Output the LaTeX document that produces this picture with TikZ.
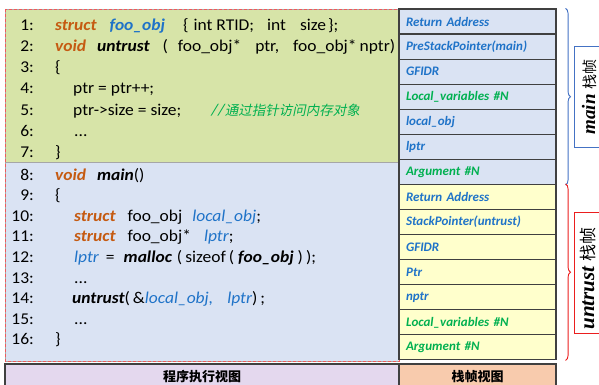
\documentclass[tikz,border=0pt]{standalone}
\usepackage{fontspec}
\setmainfont{Carlito}
\newfontfamily\codefont{Carlito}[FakeStretch=1.06]
\newfontfamily\cjk{Noto Sans CJK SC}[AutoFakeSlant=0.2]
\newfontfamily\timesfont{Liberation Serif}
\usetikzlibrary{decorations.pathreplacing}

\definecolor{codegreen}{RGB}{215,228,168}
\definecolor{codeblue}{RGB}{218,227,243}
\definecolor{rowyellow}{RGB}{255,255,204}
\definecolor{barpurple}{RGB}{228,216,238}
\definecolor{barorange}{RGB}{248,203,173}
\definecolor{rowgray}{RGB}{64,64,64}
\definecolor{kworange}{RGB}{197,90,17}
\definecolor{idblue}{RGB}{31,115,200}
\definecolor{cmtgreen}{RGB}{0,176,80}
\definecolor{framered}{RGB}{240,90,90}
\definecolor{braceblue}{RGB}{68,114,196}
\definecolor{bracered}{RGB}{235,30,30}

\newcommand{\kw}[1]{\textcolor{kworange}{\bfseries\itshape #1}}
\newcommand{\ty}[1]{\textcolor{idblue}{\bfseries\itshape #1}}
\newcommand{\fn}[1]{{\bfseries\itshape #1}}
\newcommand{\vr}[1]{\textcolor{idblue}{\itshape #1}}

\begin{document}
\begin{tikzpicture}[x=1pt,y=-1pt,node distance=25.07pt,
    code line/.style={anchor=base west,inner sep=0pt,font=\codefont\fontsize{16.5}{19}\selectfont},
    line num/.style={anchor=base east,inner sep=0pt,font=\codefont\fontsize{16.5}{19}\selectfont},
    stack row/.style={draw=rowgray,line width=1.1pt,minimum height=25.07pt,text width=143pt,
      inner xsep=7pt,inner ysep=0pt,align=left,text=idblue,
      font=\fontsize{13}{15}\selectfont\bfseries\itshape},
    main row/.style={stack row,fill=codeblue},
    untrust row/.style={stack row,fill=rowyellow},
    view bar/.style={draw=rowgray,line width=1.1pt,minimum height=26pt,inner sep=0pt,
      font=\cjk\bfseries\fontsize{13}{15}\selectfont},
    frame box/.style={thick,anchor=north west,minimum width=40pt,inner sep=0pt},
    frame label/.style={rotate=90,anchor=base,inner sep=0pt},
    frame brace/.style={decorate,decoration={brace,amplitude=5pt},line width=0.9pt}]
  \useasboundingbox (0,0) rectangle (599,385);

  % code panel
  \filldraw[fill=codegreen,draw=gray!70,thin] (5,9) rectangle (399,162);
  \filldraw[fill=codeblue,draw=gray!70,thin] (5,162) rectangle (399,361);
  \draw[framered,dash pattern=on 3pt off 2pt,line width=0.9pt] (5,9) rectangle (399,361);

  \foreach \i in {1,...,7}
    \node[line num] (n\i) at (34,10+21*\i) {\i:};
  \foreach \i in {8,...,16}
    \node[line num] (n\i) at (34,15.2+20.6*\i) {\i:};

  \node[code line] (l1) at (55,31) {\kw{struct}\hspace{13pt}\ty{foo\_obj}\hspace{18pt}\{\hspace{5pt}int\hspace{4pt}RTID;\hspace{13pt}int\hspace{14pt}size\hspace{2pt}\};};
  \node[code line] (l2) at (55,52) {\kw{void}\hspace{11pt}\fn{untrust}\hspace{13pt}(\hspace{10pt}foo\_obj*\hspace{14pt}ptr,\hspace{14pt}foo\_obj*\hspace{3pt}nptr)};
  \node[code line] (l3) at (55,73) {\{};
  \node[code line] (l4) at (73,94) {ptr = ptr++;};
  \node[code line] (l5) at (73,115) {ptr->size = size;\hspace{30pt}\textcolor{cmtgreen}{\itshape //\cjk\fontsize{13.5}{16}\selectfont 通过指针访问内存对象}};
  \node[code line] (l6) at (74,136) {...};
  \node[code line] (l7) at (55,157) {\}};
  \node[code line] (l8) at (55,180) {\kw{void}\hspace{11pt}\fn{main}()};
  \node[code line] (l9) at (55,200.6) {\{};
  \node[code line] (l10) at (74,221.2) {\kw{struct}\hspace{12pt}foo\_obj\hspace{10pt}\vr{local\_obj};};
  \node[code line] (l11) at (74,241.8) {\kw{struct}\hspace{12pt}foo\_obj*\hspace{13pt}\vr{lptr};};
  \node[code line] (l12) at (74,262.4) {\vr{lptr}\hspace{7pt}=\hspace{9pt}\fn{malloc}\hspace{5pt}(\hspace{3pt}sizeof\hspace{3pt}(\hspace{4pt}\fn{foo\_obj}\hspace{4pt})\hspace{3pt});};
  \node[code line] (l13) at (74,283) {...};
  \node[code line] (l14) at (72,303.6) {\fn{untrust}(\hspace{3pt}\&\vr{local\_obj,}\hspace{14pt}\vr{lptr})\hspace{3pt};};
  \node[code line] (l15) at (74,324.2) {...};
  \node[code line] (l16) at (55,344.8) {\}};

  % stack frames
  \node[main row] (m1) at (477.5,21.5) {Return Address};
  \node[main row] (m2) [below of=m1] {PreStackPointer(main)};
  \node[main row] (m3) [below of=m2] {GFIDR};
  \node[main row,text=cmtgreen] (m4) [below of=m3] {Local\_variables \#N};
  \node[main row] (m5) [below of=m4] {local\_obj};
  \node[main row] (m6) [below of=m5] {lptr};
  \node[main row,text=cmtgreen] (m7) [below of=m6] {Argument \#N};
  \node[untrust row] (u1) [below of=m7] {Return Address};
  \node[untrust row] (u2) [below of=u1] {StackPointer(untrust)};
  \node[untrust row] (u3) [below of=u2] {GFIDR};
  \node[untrust row] (u4) [below of=u3] {Ptr};
  \node[untrust row] (u5) [below of=u4] {nptr};
  \node[untrust row,text=cmtgreen] (u6) [below of=u5] {Local\_variables \#N};
  \node[untrust row,text=cmtgreen] (u7) [below of=u6] {Argument \#N};

  % bottom bars
  \node[view bar,fill=barpurple,minimum width=394pt] (execview) at (202,377) {程序执行视图};
  \node[view bar,fill=barorange,minimum width=157pt] (frameview) at (477.5,377) {栈帧视图};

  % braces and labels
  \draw[frame brace,braceblue] ([xshift=9pt]m1.north east) -- ([xshift=9pt]m7.south east);
  \draw[frame brace,bracered] ([xshift=9pt]u1.north east) -- ([xshift=9pt]u7.south east);
  \node[frame box,draw=braceblue,minimum height=101pt] (mainbox) at (574,46) {};
  \node[frame box,draw=bracered,minimum height=121pt] (untrustbox) at (574,212) {};
  \node[frame label] (mainlbl) at (595,97)
    {\timesfont\bfseries\itshape\fontsize{19}{20}\selectfont main\ {\cjk\mdseries\upshape\fontsize{15}{16}\selectfont 栈帧}};
  \node[frame label] (untrustlbl) at (594,278.5)
    {\timesfont\bfseries\itshape\fontsize{21}{22}\selectfont untrust\ {\cjk\mdseries\upshape\fontsize{17}{18}\selectfont 栈帧}};
\end{tikzpicture}
\end{document}
